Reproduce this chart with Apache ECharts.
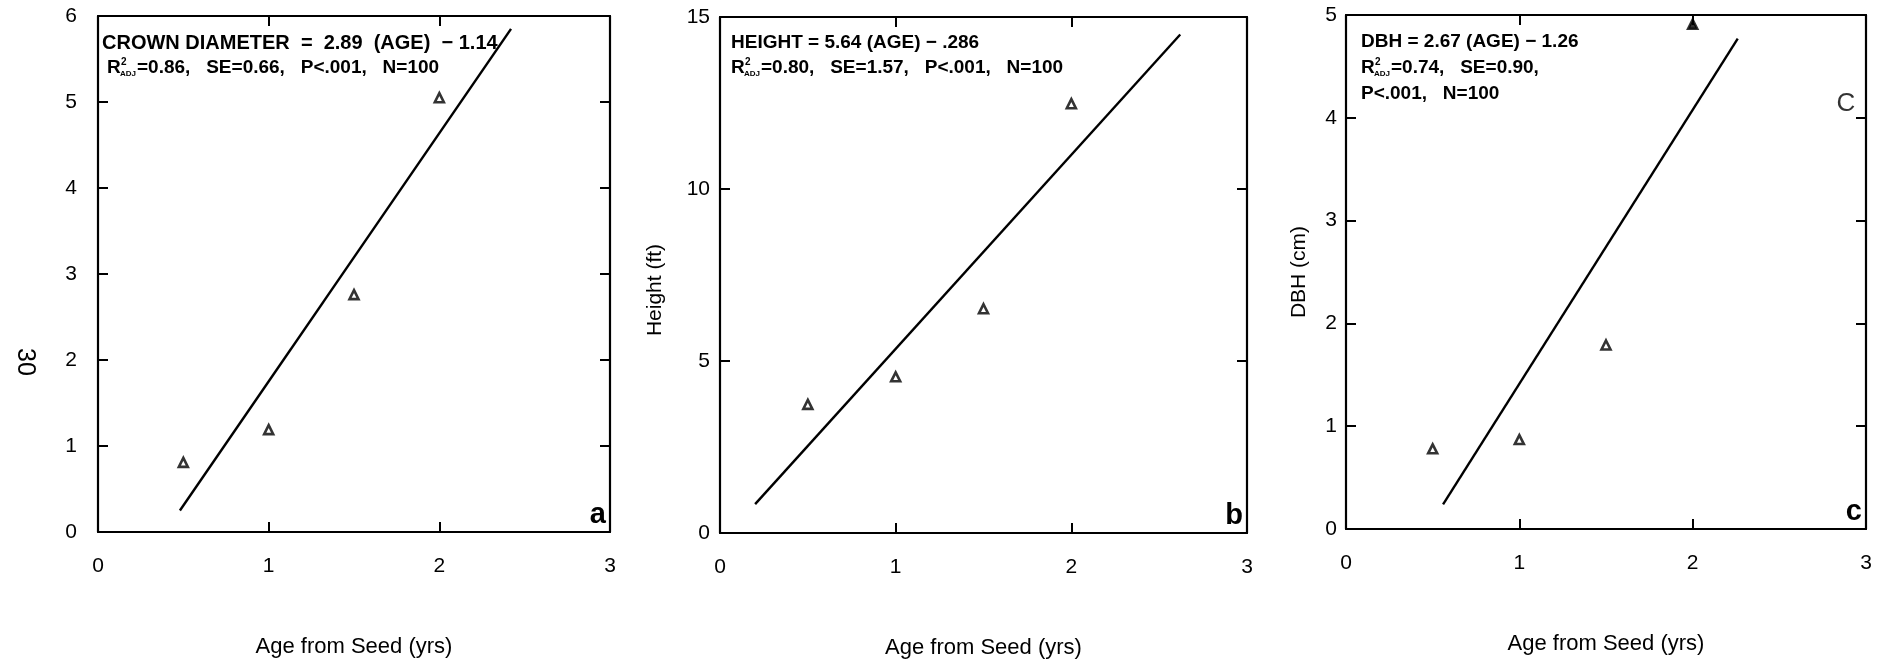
<!DOCTYPE html>
<html>
<head>
<meta charset="utf-8">
<title>Growth regressions by age from seed</title>
<script src="https://cdn.jsdelivr.net/npm/echarts@6/dist/echarts.min.js"></script>
<style>
  html, body { margin: 0; padding: 0; background: #ffffff; }
  #chart { width: 1885px; height: 665px; }
</style>
</head>
<body>
<div id="chart"></div>
<script>
// ---- data ----------------------------------------------------------
const ageTicks = [0, 1, 2, 3];
const ages = [0.5, 1.0, 1.5, 2.0];

const crownDiameter = [0.81, 1.19, 2.76, 5.05];   // panel a
const treeHeight    = [3.74, 4.54, 6.52, 12.48];  // panel b (ft)
const dbh           = [0.78, 0.87, 1.79, 4.91];   // panel c (cm)

// fitted regression lines, end points [age, value]
const crownFit  = [[0.48, 0.25], [2.42, 5.85]];   // 2.89 (AGE) - 1.14
const heightFit = [[0.20, 0.84], [2.62, 14.49]];  // 5.64 (AGE) - .286
const dbhFit    = [[0.56, 0.24], [2.26, 4.77]];   // 2.67 (AGE) - 1.26

const crownTicks  = [0, 1, 2, 3, 4, 5, 6];
const heightTicks = [0, 5, 10, 15];
const dbhTicks    = [0, 1, 2, 3, 4, 5];

// ---- styling -------------------------------------------------------
const INK = '#000000';
const FONT = '"Liberation Sans", Arial, Helvetica, sans-serif';

const panels = [
  { left: 98,   right: 610,  top: 16, bottom: 532, yTicks: crownTicks,  yValues: crownDiameter, fit: crownFit,
    yLabelMargin: 21, tag: 'a' },
  { left: 720,  right: 1247, top: 17, bottom: 533, yTicks: heightTicks, yValues: treeHeight,    fit: heightFit,
    yLabelMargin: 10, tag: 'b' },
  { left: 1346, right: 1866, top: 15, bottom: 529, yTicks: dbhTicks,    yValues: dbh,           fit: dbhFit,
    yLabelMargin: 9,  tag: 'c' }
];

const option = {
  animation: false,
  backgroundColor: '#ffffff',
  grid: [], xAxis: [], yAxis: [], series: [], graphic: []
};

function frameLine() { return { show: true, onZero: false, lineStyle: { color: INK, width: 2.2 } }; }
function innerTick() { return { show: true, inside: true, length: 10, lineStyle: { color: INK, width: 2 } }; }

panels.forEach(function (p, i) {
  const yMin = p.yTicks[0];
  const yMax = p.yTicks[p.yTicks.length - 1];
  const yStep = p.yTicks[1] - p.yTicks[0];

  option.grid.push({ left: p.left, top: p.top, width: p.right - p.left, height: p.bottom - p.top });

  option.xAxis.push({
    type: 'value', gridIndex: i, position: 'bottom',
    min: ageTicks[0], max: ageTicks[ageTicks.length - 1], interval: ageTicks[1] - ageTicks[0],
    axisLine: frameLine(), axisTick: innerTick(), splitLine: { show: false },
    axisLabel: { color: INK, fontSize: 21, fontFamily: FONT, margin: 24 },
    name: 'Age from Seed (yrs)', nameLocation: 'middle', nameGap: 104,
    nameTextStyle: { color: INK, fontSize: 22, fontFamily: FONT }
  });
  option.xAxis.push({
    type: 'value', gridIndex: i, position: 'top',
    min: ageTicks[0], max: ageTicks[ageTicks.length - 1], interval: ageTicks[1] - ageTicks[0],
    axisLine: frameLine(), axisTick: innerTick(), splitLine: { show: false },
    axisLabel: { show: false }
  });
  option.yAxis.push({
    type: 'value', gridIndex: i, position: 'left',
    min: yMin, max: yMax, interval: yStep,
    axisLine: frameLine(), axisTick: innerTick(), splitLine: { show: false },
    axisLabel: { color: INK, fontSize: 21, fontFamily: FONT, margin: p.yLabelMargin }
  });
  option.yAxis.push({
    type: 'value', gridIndex: i, position: 'right',
    min: yMin, max: yMax, interval: yStep,
    axisLine: frameLine(), axisTick: innerTick(), splitLine: { show: false },
    axisLabel: { show: false }
  });

  // regression line
  option.series.push({
    type: 'line', xAxisIndex: 2 * i, yAxisIndex: 2 * i,
    data: p.fit, symbol: 'none', silent: true,
    lineStyle: { color: INK, width: 2.4 }
  });
  // mean values by age (open triangles)
  option.series.push({
    type: 'scatter', xAxisIndex: 2 * i, yAxisIndex: 2 * i,
    symbol: 'triangle', symbolSize: 9, clip: false,
    itemStyle: { color: '#ffffff', borderColor: INK, borderWidth: 2.6 },
    data: ages.map(function (a, k) {
      const item = { value: [a, p.yValues[k]] };
      if (p.tag === 'c' && k === ages.length - 1) item.itemStyle = { color: INK };
      return item;
    })
  });
});

// ---- text annotations ---------------------------------------------
function label(x, y, s, font, extra) {
  const el = {
    type: 'text', x: x, y: y, silent: true,
    style: { text: s, font: font, fill: INK, align: 'left', verticalAlign: 'middle',
             textAlign: 'left', textVerticalAlign: 'middle' }
  };
  if (extra) {
    Object.keys(extra).forEach(function (k) {
      if (k === 'style') Object.assign(el.style, extra.style); else el[k] = extra[k];
    });
  }
  return el;
}

const BOLD = 'bold 19px ' + FONT;
const SUP = 'bold 10px ' + FONT;
const SUB = 'bold 8px ' + FONT;

// R-squared (adjusted) followed by the remaining statistics
function statsLine(x, y, rest) {
  return [
    label(x, y, 'R', BOLD),
    label(x + 14, y - 6, '2', SUP),
    label(x + 13, y + 6, 'ADJ', SUB),
    label(x + 30, y, rest, BOLD)
  ];
}

const notes = [];
notes.push(label(102, 43, 'CROWN DIAMETER  =  2.89  (AGE)  \u2212 1.14', 'bold 20px ' + FONT));
notes.push.apply(notes, statsLine(107, 68, '=0.86,   SE=0.66,   P<.001,   N=100'));

notes.push(label(731, 43, 'HEIGHT = 5.64 (AGE) \u2212 .286', BOLD));
notes.push.apply(notes, statsLine(731, 68, '=0.80,   SE=1.57,   P<.001,   N=100'));

notes.push(label(1361, 42, 'DBH = 2.67 (AGE) \u2212 1.26', BOLD));
notes.push.apply(notes, statsLine(1361, 68, '=0.74,   SE=0.90,'));
notes.push(label(1361, 94, 'P<.001,   N=100', BOLD));

// y-axis titles
notes.push(label(655, 290, 'Height (ft)', '21px ' + FONT,
  { rotation: Math.PI / 2, style: { align: 'center', textAlign: 'center' } }));
notes.push(label(1299, 272, 'DBH (cm)', '21px ' + FONT,
  { rotation: Math.PI / 2, style: { align: 'center', textAlign: 'center' } }));

// panel letters
panels.forEach(function (p) {
  notes.push(label(p.right - 4, p.bottom - 17, p.tag, 'bold 29px ' + FONT,
    { style: { align: 'right', textAlign: 'right' } }));
});

// margin marks on the page
notes.push(label(1846, 104, 'C', '26px ' + FONT, { style: { align: 'center', textAlign: 'center', fill: '#333' } }));
notes.push(label(25, 362, '30', '25px ' + FONT,
  { rotation: -Math.PI / 2, style: { align: 'center', textAlign: 'center' } }));

option.graphic = notes;

const chart = echarts.init(document.getElementById('chart'), null, { renderer: 'canvas' });
chart.setOption(option);
</script>
</body>
</html>
